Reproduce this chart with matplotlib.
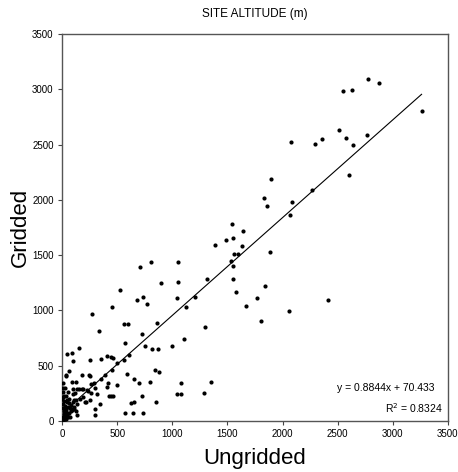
import matplotlib
matplotlib.use("Agg")
import matplotlib.pyplot as plt

plt.rcParams['font.family'] = ['Liberation Sans', 'DejaVu Sans']

# site altitude (m): ungridded vs gridded
ungridded = [
    2777, 2874, 2548, 2632, 3261, 2515, 2575, 2360, 2294, 2765, 2641, 2076,
    2599, 1895, 1832, 1856, 2082, 2270, 2064, 1886, 1844, 2061, 2409, 1807,
    1538, 1638, 1487, 1547, 1384, 1632, 1562, 1599, 1532, 1547, 1550, 1577,
    1768, 1668, 707, 810, 1049, 895, 1049, 1315, 529, 680, 732, 774,
    1040, 1209, 1122, 453, 269, 559, 599, 858, 1300, 335, 722, 574,
    1106, 750, 813, 870, 1000, 151, 48, 88, 97, 411, 444, 466,
    351, 251, 502, 562, 605, 450, 39, 33, 63, 178, 248, 251,
    387, 590, 354, 287, 653, 698, 840, 877, 798, 1351, 1079, 417,
    411, 499, 302, 260, 88, 124, 12, 103, 133, 154, 178, 194,
    224, 239, 263, 118, 97, 320, 423, 444, 462, 722, 1046, 1076,
    1285, 36, 12, 48, 60, 194, 163, 109, 127, 209, 221, 254,
    348, 626, 653, 850, 299, 299, 94, 109, 136, 70, 574, 647,
    738,
    0, 5, 10, 15, 20, 25, 30, 35, 40, 45, 50, 60, 70, 80,
    5, 10, 15, 20, 25, 30, 40, 45, 55, 65, 75, 85, 95, 100,
    110, 130, 140, 0, 8, 15, 30, 5, 50,
]
gridded = [
    3090, 3054, 2982, 2994, 2806, 2629, 2557, 2553, 2505, 2589, 2493, 2520,
    2222, 2191, 2014, 1947, 1983, 2092, 1866, 1531, 1224, 995, 1092, 907,
    1782, 1721, 1637, 1652, 1595, 1580, 1513, 1513, 1450, 1399, 1281, 1164,
    1112, 1043, 1396, 1441, 1438, 1251, 1260, 1281, 1188, 1097, 1121, 1061,
    1109, 1121, 1031, 1031, 968, 880, 874, 886, 847, 817, 784, 702,
    745, 678, 654, 651, 678, 657, 609, 618, 543, 588, 579, 570,
    558, 549, 522, 552, 600, 458, 416, 407, 449, 416, 419, 410,
    416, 428, 377, 344, 383, 347, 461, 446, 350, 350, 347, 344,
    311, 329, 301, 338, 350, 350, 344, 289, 289, 292, 292, 289,
    277, 268, 256, 250, 244, 241, 226, 226, 226, 226, 247, 244,
    256, 229, 220, 187, 199, 214, 202, 190, 187, 169, 172, 190,
    154, 166, 175, 172, 112, 54, 112, 112, 51, 115, 69, 69,
    69,
    10, 40, 0, 25, 60, 15, 45, 80, 20, 55, 35, 70, 40, 90,
    120, 150, 90, 180, 110, 140, 100, 170, 130, 160, 120, 145, 100, 170,
    125, 95, 150, 200, 260, 230, 300, 300, 260,
]

slope = 0.8844
intercept = 70.433
r2 = 0.8324

fig = plt.figure(figsize=(4.58, 4.72), dpi=100)
ax = fig.add_axes([0.1354, 0.108, 0.8426, 0.820])

ax.scatter(ungridded, gridded, s=9, color='black', zorder=3, linewidths=0)

x0, x1 = min(ungridded), max(ungridded)
ax.plot([x0, x1], [slope * x0 + intercept, slope * x1 + intercept],
        color='black', linewidth=0.8)

ax.set_xlim(0, 3500)
ax.set_ylim(0, 3500)
ax.set_xticks(range(0, 3501, 500))
ax.set_yticks(range(0, 3501, 500))
ax.tick_params(labelsize=7, length=3, width=0.8, colors='#444444', labelcolor='black', pad=3)
for s in ax.spines.values():
    s.set_color('#555555')
    s.set_linewidth(1.0)

ax.set_xlabel("Ungridded", fontsize=16, labelpad=6)
ax.set_ylabel("Gridded", fontsize=16, labelpad=1)
fig.text(0.557, 0.970, "SITE ALTITUDE (m)", ha='center', va='center', fontsize=8.5)

ax.text(3380, 300, f"y = {slope}x + {intercept}", ha='right', va='center', fontsize=7.5)
ax.text(3190, 115, f"R$^2$ = {r2}", ha='center', va='center', fontsize=7.5)

fig.savefig("out.png", dpi=100)
